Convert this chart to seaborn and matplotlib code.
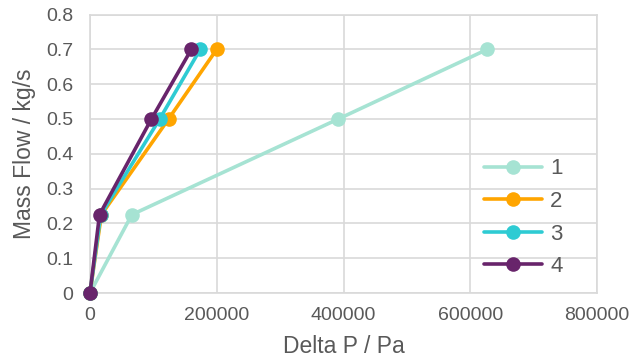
import matplotlib
matplotlib.use("Agg")
import matplotlib.pyplot as plt
import seaborn as sns
import pandas as pd

# Measured mass flow vs. pressure drop for four configurations
series_names = ["1", "2", "3", "4"]
mass_flow = [0.0, 0.225, 0.5, 0.7]
delta_p_1 = [0, 66000, 392000, 627000]
delta_p_2 = [0, 18000, 124000, 200000]
delta_p_3 = [0, 17000, 110000, 174000]
delta_p_4 = [0, 15000, 97000, 160000]

colors = ["#A6E3D3", "#FFA500", "#2ECBD3", "#68246B"]
text_color = "#595959"
grid_color = "#D9D9D9"

rows = []
for name, dp in zip(series_names, [delta_p_1, delta_p_2, delta_p_3, delta_p_4]):
    for x, y in zip(dp, mass_flow):
        rows.append({"series": name, "dp": x, "flow": y})
df = pd.DataFrame(rows)

sns.set_theme(style="white")
plt.rcParams["font.family"] = ["Liberation Sans", "DejaVu Sans"]

fig = plt.figure(figsize=(6.35, 3.63), dpi=100)
ax = fig.add_axes([90 / 635, 1 - 293 / 363, (597 - 90) / 635, (293 - 14.5) / 363])

sns.lineplot(
    data=df, x="dp", y="flow", hue="series", hue_order=series_names,
    palette=colors, marker="o", markersize=10.5, markeredgewidth=0,
    linewidth=2.6, sort=False, estimator=None, ax=ax, zorder=3,
)
for line in ax.lines:
    line.set_clip_on(False)

ax.set_xlim(0, 800000)
ax.set_ylim(0, 0.8)
ax.set_xticks([0, 200000, 400000, 600000, 800000])
ax.set_xticklabels(["0", "200000", "400000", "600000", "800000"])
ax.set_yticks([i / 10 for i in range(9)])
ax.set_yticklabels(["0", "0.1", "0.2", "0.3", "0.4", "0.5", "0.6", "0.7", "0.8"])

ax.grid(True, color=grid_color, linewidth=1.2)
ax.set_axisbelow(True)
for s in ax.spines.values():
    s.set_color(grid_color)
    s.set_linewidth(1.2)

ax.tick_params(axis="both", length=0, labelsize=14, labelcolor=text_color)
ax.tick_params(axis="x", pad=10)
ax.tick_params(axis="y", pad=12)
ax.set_xlabel("Delta P / Pa", fontsize=16.5, color=text_color, labelpad=8)
ax.set_ylabel("Mass Flow / kg/s", fontsize=16.5, color=text_color, labelpad=7)

leg = ax.legend(
    loc="center left", bbox_to_anchor=(0.778, 0.27), frameon=False,
    fontsize=16, handlelength=2.6, labelspacing=0.52, handletextpad=0.35,
    borderaxespad=0, borderpad=0,
)
for t in leg.get_texts():
    t.set_color(text_color)

fig.savefig("out.png", dpi=100, facecolor="white")
